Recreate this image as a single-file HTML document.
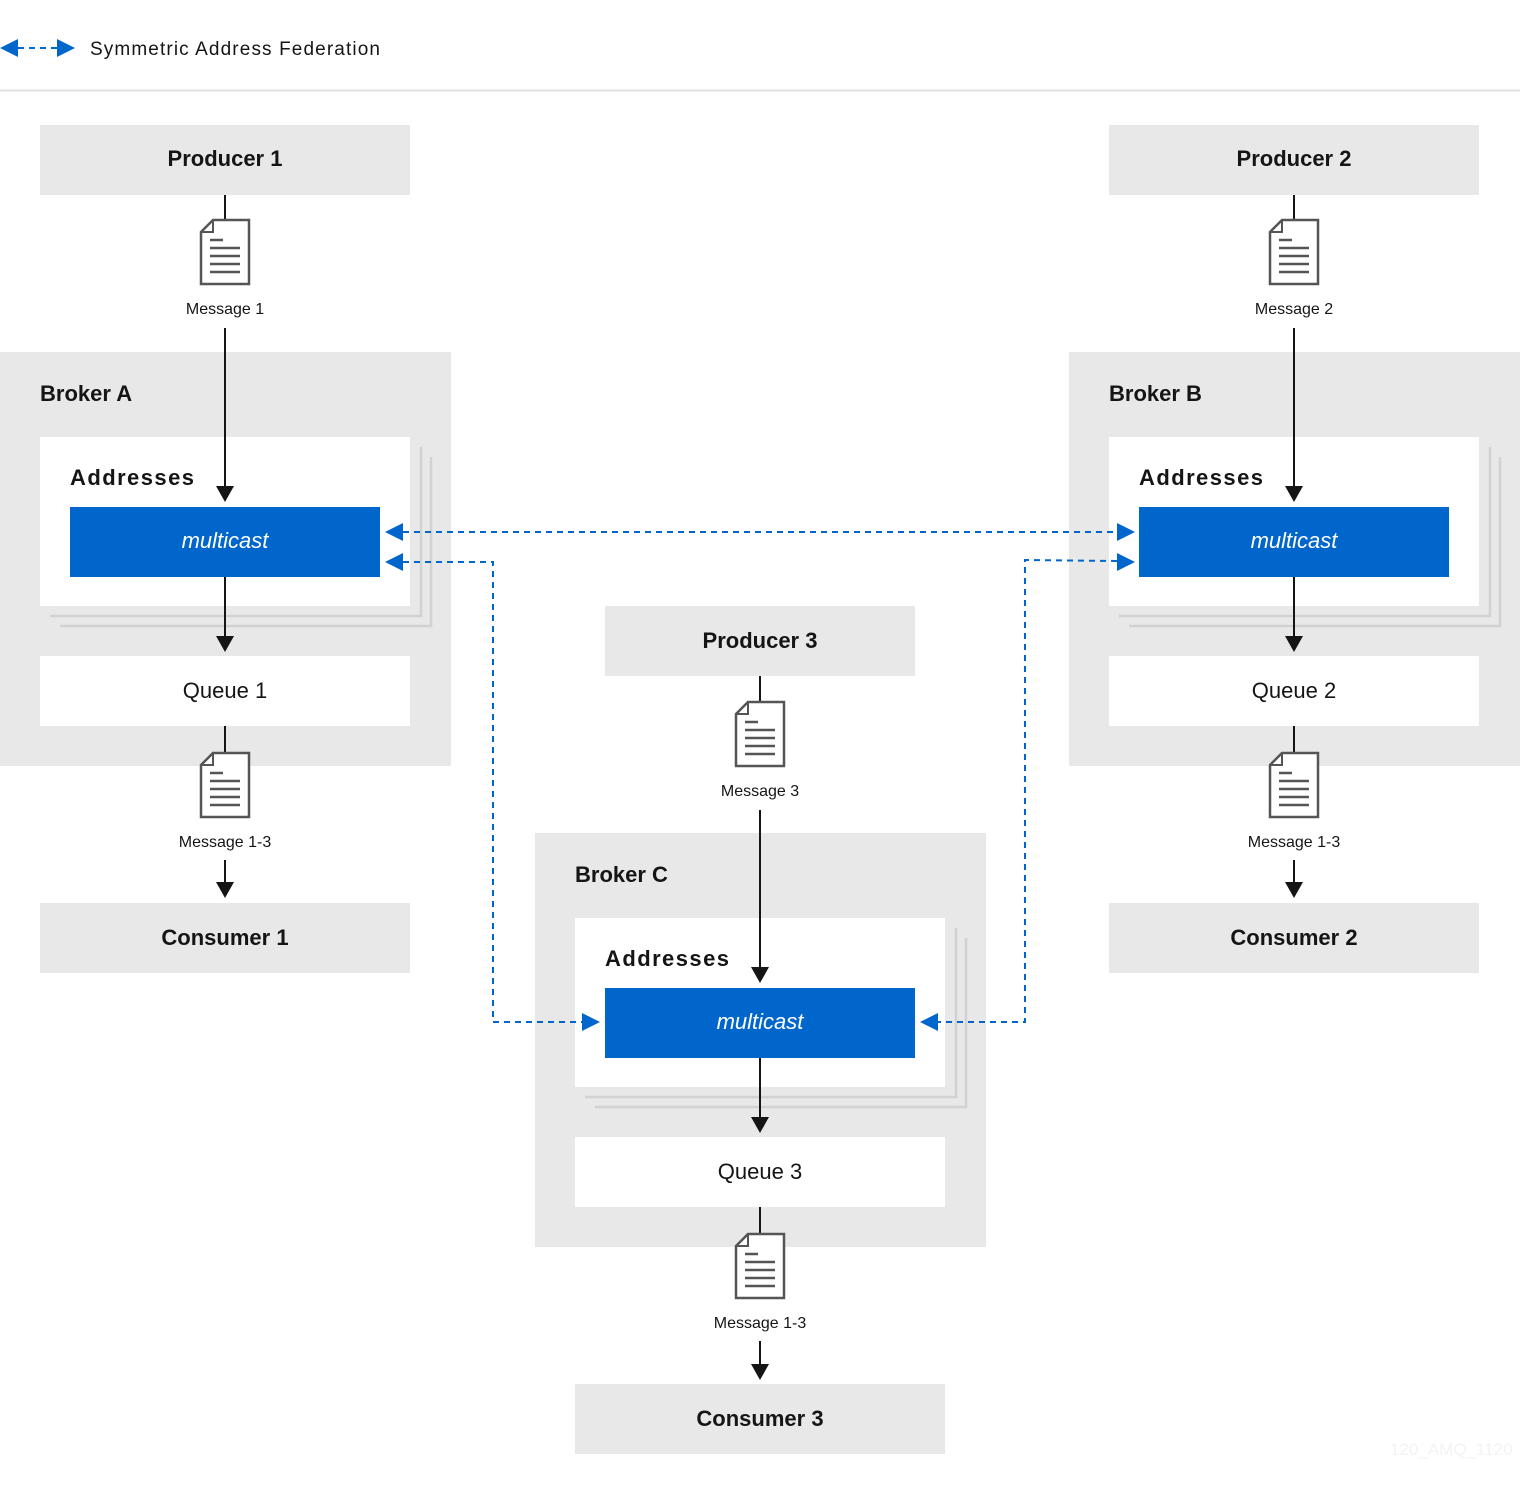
<!DOCTYPE html>
<html><head><meta charset="utf-8"><style>
html,body{margin:0;padding:0;background:#fff;}
svg{display:block;font-family:"Liberation Sans",sans-serif;}
</style></head><body>
<svg width="1520" height="1490" viewBox="0 0 1520 1490" xmlns="http://www.w3.org/2000/svg">
<defs>
<g id="doc">
<path d="M-24,-20 L-24,32 L24,32 L24,-32 L-12,-32 Z" fill="#fff" stroke="#555" stroke-width="2.5"/>
<path d="M-24,-20 L-12,-20 L-12,-32" fill="none" stroke="#555" stroke-width="2"/>
<line x1="-15" y1="-12" x2="-2" y2="-12" stroke="#555" stroke-width="2.5"/>
<line x1="-15" y1="-4" x2="15" y2="-4" stroke="#555" stroke-width="2.5"/>
<line x1="-15" y1="4" x2="15" y2="4" stroke="#555" stroke-width="2.5"/>
<line x1="-15" y1="12" x2="15" y2="12" stroke="#555" stroke-width="2.5"/>
<line x1="-15" y1="20" x2="15" y2="20" stroke="#555" stroke-width="2.5"/>
</g>
<g id="dn"><path d="M-9,-16 L9,-16 L0,0 Z" fill="#151515"/></g>
<g id="broker">
<rect x="0" y="0" width="451" height="414" fill="#e8e8e8"/>
<polyline points="60,274 431,274 431,105" fill="none" stroke="#d2d2d2" stroke-width="2.5"/>
<polyline points="50,264 421,264 421,95" fill="none" stroke="#d2d2d2" stroke-width="2.5"/>
<rect x="40" y="85" width="370" height="169" fill="#fff"/>
<rect x="70" y="155" width="310" height="70" fill="#0066cc"/>
<text x="225" y="196" font-size="22" font-style="italic" fill="#fff" text-anchor="middle">multicast</text>
<text x="70" y="133" font-size="22" font-weight="bold" fill="#151515" textLength="124">Addresses</text>
<rect x="40" y="304" width="370" height="70" fill="#fff"/>
<line x1="225" y1="225" x2="225" y2="286" stroke="#151515" stroke-width="2"/>
<use href="#dn" x="225" y="300"/>
</g>
</defs>

<path d="M0,48 L18,39 L18,57 Z" fill="#0066cc"/>
<path d="M75,48 L57,39 L57,57 Z" fill="#0066cc"/>
<line x1="18" y1="48" x2="57" y2="48" stroke="#0066cc" stroke-width="2" stroke-dasharray="6,5"/>
<text x="90" y="55" font-size="19" fill="#151515" textLength="290">Symmetric Address Federation</text>
<line x1="0" y1="90.5" x2="1520" y2="90.5" stroke="#e0e0e0" stroke-width="2"/>

<use href="#broker" x="0" y="352"/>
<text x="40" y="401" font-size="22" font-weight="bold" fill="#151515">Broker A</text>
<text x="225" y="698" font-size="22" fill="#151515" text-anchor="middle">Queue 1</text>
<rect x="40" y="125" width="370" height="70" fill="#e8e8e8"/>
<text x="225" y="166" font-size="22" font-weight="bold" fill="#151515" text-anchor="middle">Producer 1</text>
<line x1="225" y1="195" x2="225" y2="222" stroke="#151515" stroke-width="2"/>
<use href="#doc" x="225" y="252"/>
<text x="225" y="314" font-size="16" fill="#151515" text-anchor="middle">Message 1</text>
<line x1="225" y1="328" x2="225" y2="488" stroke="#151515" stroke-width="2"/>
<use href="#dn" x="225" y="502"/>
<line x1="225" y1="726" x2="225" y2="754" stroke="#151515" stroke-width="2"/>
<use href="#doc" x="225" y="785"/>
<text x="225" y="847" font-size="16" fill="#151515" text-anchor="middle">Message 1-3</text>
<line x1="225" y1="860" x2="225" y2="884" stroke="#151515" stroke-width="2"/>
<use href="#dn" x="225" y="898"/>
<rect x="40" y="903" width="370" height="70" fill="#e8e8e8"/>
<text x="225" y="945" font-size="22" font-weight="bold" fill="#151515" text-anchor="middle">Consumer 1</text>

<use href="#broker" x="1069" y="352"/>
<text x="1109" y="401" font-size="22" font-weight="bold" fill="#151515">Broker B</text>
<text x="1294" y="698" font-size="22" fill="#151515" text-anchor="middle">Queue 2</text>
<rect x="1109" y="125" width="370" height="70" fill="#e8e8e8"/>
<text x="1294" y="166" font-size="22" font-weight="bold" fill="#151515" text-anchor="middle">Producer 2</text>
<line x1="1294" y1="195" x2="1294" y2="222" stroke="#151515" stroke-width="2"/>
<use href="#doc" x="1294" y="252"/>
<text x="1294" y="314" font-size="16" fill="#151515" text-anchor="middle">Message 2</text>
<line x1="1294" y1="328" x2="1294" y2="488" stroke="#151515" stroke-width="2"/>
<use href="#dn" x="1294" y="502"/>
<line x1="1294" y1="726" x2="1294" y2="754" stroke="#151515" stroke-width="2"/>
<use href="#doc" x="1294" y="785"/>
<text x="1294" y="847" font-size="16" fill="#151515" text-anchor="middle">Message 1-3</text>
<line x1="1294" y1="860" x2="1294" y2="884" stroke="#151515" stroke-width="2"/>
<use href="#dn" x="1294" y="898"/>
<rect x="1109" y="903" width="370" height="70" fill="#e8e8e8"/>
<text x="1294" y="945" font-size="22" font-weight="bold" fill="#151515" text-anchor="middle">Consumer 2</text>

<use href="#broker" x="535" y="833"/>
<text x="575" y="882" font-size="22" font-weight="bold" fill="#151515">Broker C</text>
<text x="760" y="1179" font-size="22" fill="#151515" text-anchor="middle">Queue 3</text>
<rect x="605" y="606" width="310" height="70" fill="#e8e8e8"/>
<text x="760" y="648" font-size="22" font-weight="bold" fill="#151515" text-anchor="middle">Producer 3</text>
<line x1="760" y1="676" x2="760" y2="704" stroke="#151515" stroke-width="2"/>
<use href="#doc" x="760" y="734"/>
<text x="760" y="796" font-size="16" fill="#151515" text-anchor="middle">Message 3</text>
<line x1="760" y1="810" x2="760" y2="969" stroke="#151515" stroke-width="2"/>
<use href="#dn" x="760" y="983"/>
<line x1="760" y1="1207" x2="760" y2="1236" stroke="#151515" stroke-width="2"/>
<use href="#doc" x="760" y="1266"/>
<text x="760" y="1328" font-size="16" fill="#151515" text-anchor="middle">Message 1-3</text>
<line x1="760" y1="1341" x2="760" y2="1366" stroke="#151515" stroke-width="2"/>
<use href="#dn" x="760" y="1380"/>
<rect x="575" y="1384" width="370" height="70" fill="#e8e8e8"/>
<text x="760" y="1426" font-size="22" font-weight="bold" fill="#151515" text-anchor="middle">Consumer 3</text>

<g fill="none" stroke="#0066cc" stroke-width="2" stroke-dasharray="6,5">
<line x1="403" y1="532" x2="1117" y2="532"/>
<polyline points="403,562 493,562 493,1022 582,1022"/>
<polyline points="1117,561 1025,560 1025,1022 938,1022"/>
</g>
<g fill="#0066cc">
<path d="M385,532 L403,523 L403,541 Z"/>
<path d="M385,562 L403,553 L403,571 Z"/>
<path d="M1135,532 L1117,523 L1117,541 Z"/>
<path d="M1135,562 L1117,553 L1117,571 Z"/>
<path d="M600,1022 L582,1013 L582,1031 Z"/>
<path d="M920,1022 L938,1013 L938,1031 Z"/>
</g>
<text x="1390" y="1455" font-size="17" fill="#f3f3f3">120_AMQ_1120</text>
</svg>
</body></html>
